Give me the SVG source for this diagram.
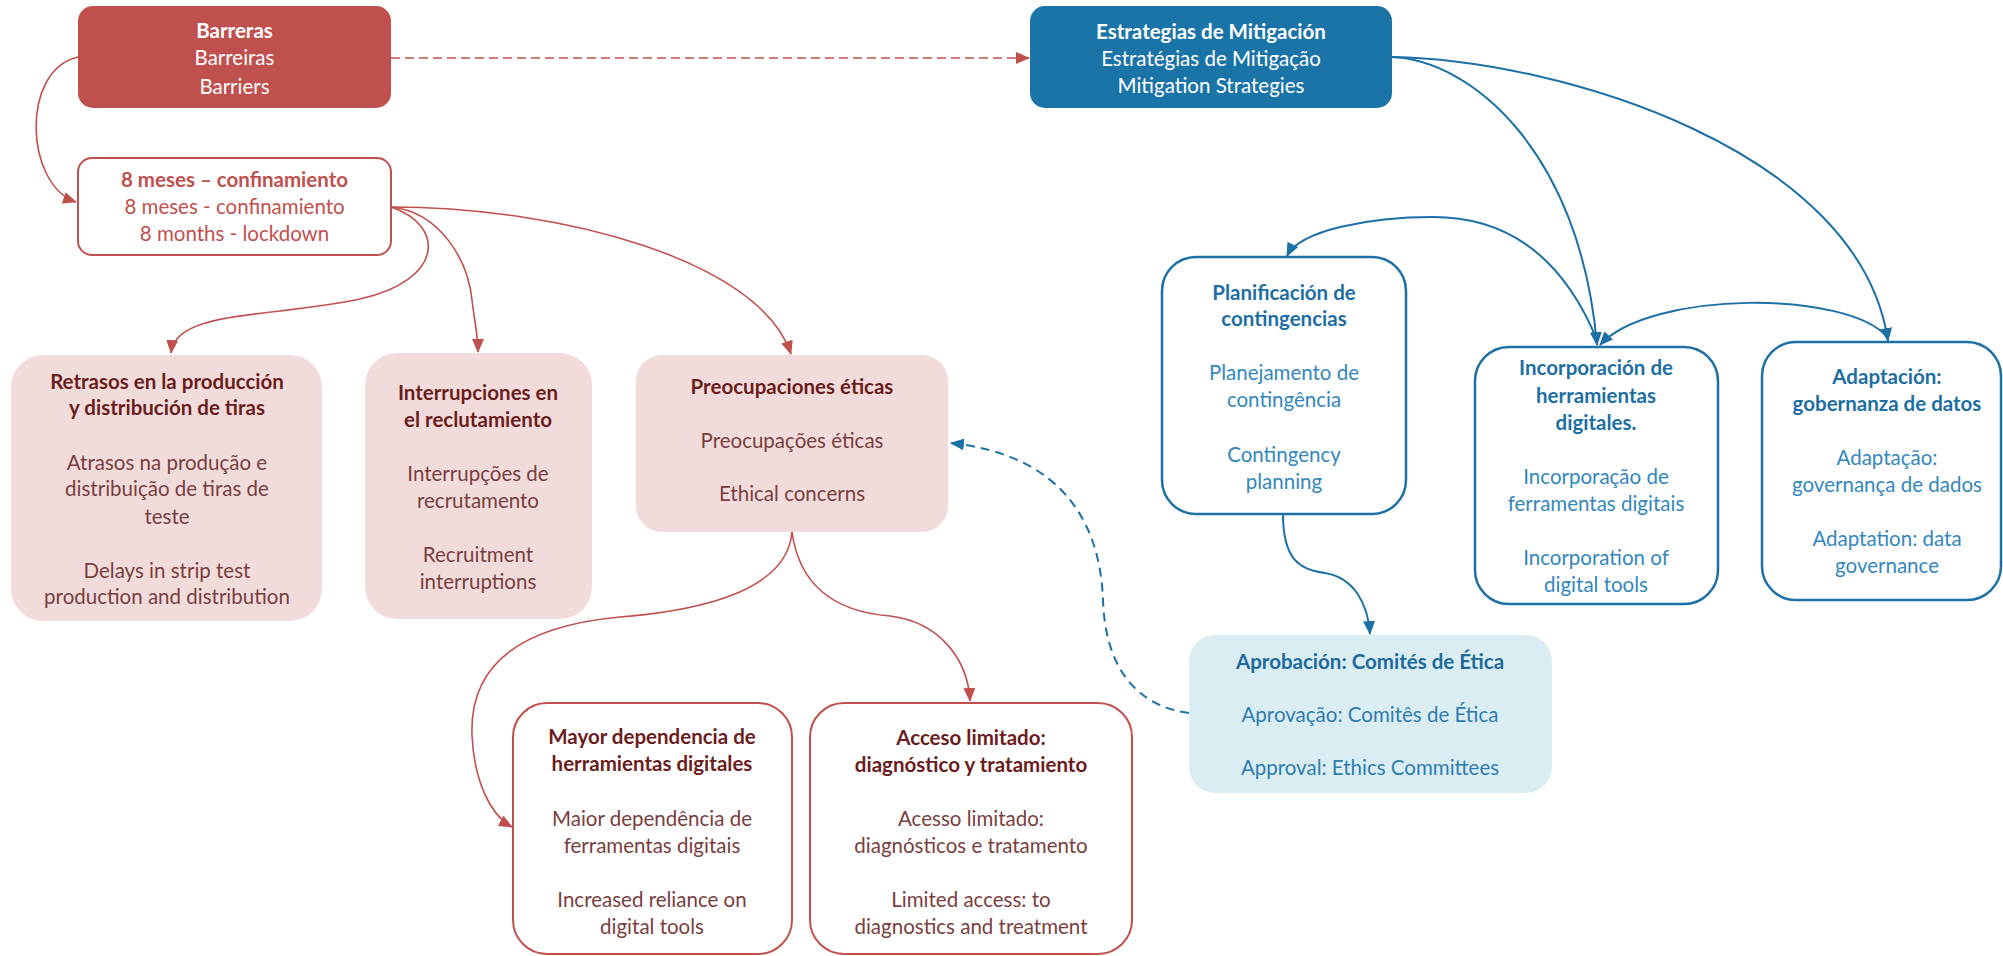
<svg xmlns="http://www.w3.org/2000/svg" width="2003" height="956" viewBox="0 0 2003 956">
<style>
text{font-family:Lato,"Liberation Sans",sans-serif;font-size:20.5px;text-anchor:middle}
.b{font-weight:700}
.l{font-weight:400}
.w{fill:#ffffff}
.r1{fill:#C0504D}
.m1{fill:#6B1C1C}
.m2{fill:#7A3E3E}
.u1{fill:#1C6EA3}
.u2{fill:#3387BD}
.a1{fill:#1D6A9C}
.a2{fill:#2F7DB0}
.cr{fill:none;stroke:#C0504D;stroke-width:1.6}
.cb{fill:none;stroke:#1C70A6;stroke-width:2}
</style>
<defs>
<marker id="ar" markerUnits="userSpaceOnUse" markerWidth="14" markerHeight="12" refX="13" refY="6" orient="auto"><path d="M0,0 L14,6 L0,12 z" fill="#C0504D"/></marker>
<marker id="ab" markerUnits="userSpaceOnUse" markerWidth="14" markerHeight="12" refX="13" refY="6" orient="auto"><path d="M0,0 L14,6 L0,12 z" fill="#1C70A6"/></marker>
</defs>
<rect width="2003" height="956" fill="#ffffff"/>
<g id="connectors">
<path class="cr" d="M78,57 C20,70 25,185 76,202" marker-end="url(#ar)"/>
<path class="cr" d="M391,58 L1029,58" stroke-dasharray="9,5" stroke-width="2" marker-end="url(#ar)"/>
<path class="cr" d="M391,207 C445,225 445,280 360,299 C270,318 175,310 171,353" marker-end="url(#ar)"/>
<path class="cr" d="M391,207 C440,212 468,260 472,300 C475,325 478,335 478,352" marker-end="url(#ar)"/>
<path class="cr" d="M391,207 C560,207 760,260 791,354" marker-end="url(#ar)"/>
<path class="cr" d="M792,532 C788,580 730,608 620,617 C500,628 470,680 472,735 C474,780 490,815 512,827" marker-end="url(#ar)"/>
<path class="cr" d="M792,532 C800,590 840,612 890,616 C940,622 968,660 970,701" marker-end="url(#ar)"/>
<path class="cb" d="M1392,57 C1470,60 1580,150 1597,345" marker-end="url(#ab)"/>
<path class="cb" d="M1392,57 C1560,60 1860,150 1888,341" marker-end="url(#ab)"/>
<path class="cb" d="M1888,338 C1850,290 1650,290 1600,345" marker-end="url(#ab)"/>
<path class="cb" d="M1597,340 C1560,250 1500,217 1433,217 C1370,217 1300,230 1287,256" marker-end="url(#ab)"/>
<path class="cb" d="M1283,514 C1283,560 1300,570 1325,573 C1355,578 1368,605 1370,634" marker-end="url(#ab)"/>
<path class="cb" d="M1189,713 C1130,705 1105,660 1103,600 C1100,520 1060,455 951,443" stroke-dasharray="9,6" marker-end="url(#ab)"/>
</g>
<g id="barreras">
<rect x="78" y="6" width="313" height="102" rx="15" fill="#C0504D"/>
<text x="234.5" y="38" class="b w">Barreras</text>
<text x="234.5" y="65" class="l w">Barreiras</text>
<text x="234.5" y="94" class="l w">Barriers</text>
</g>
<g id="confinamiento">
<rect x="78" y="158" width="313" height="97" rx="14" fill="#ffffff" stroke="#C0504D" stroke-width="2"/>
<text x="234.5" y="187" class="b r1">8 meses – confinamiento</text>
<text x="234.5" y="214" class="l r1">8 meses - confinamiento</text>
<text x="234.5" y="241" class="l r1">8 months - lockdown</text>
</g>
<g id="estrategias">
<rect x="1030" y="6" width="362" height="102" rx="15" fill="#1B74A8"/>
<text x="1211" y="39" class="b w">Estrategias de Mitigación</text>
<text x="1211" y="66" class="l w">Estratégias de Mitigação</text>
<text x="1211" y="93" class="l w">Mitigation Strategies</text>
</g>
<g id="retrasos">
<rect x="11" y="355" width="311" height="266" rx="32" fill="#F2DCDB"/>
<text x="167" y="389" class="b m1">Retrasos en la producción</text>
<text x="167" y="415" class="b m1">y distribución de tiras</text>
<text x="167" y="470" class="l m2">Atrasos na produção e</text>
<text x="167" y="496" class="l m2">distribuição de tiras de</text>
<text x="167" y="524" class="l m2">teste</text>
<text x="167" y="578" class="l m2">Delays in strip test</text>
<text x="167" y="604" class="l m2">production and distribution</text>
</g>
<g id="interrupciones">
<rect x="365" y="353" width="227" height="266" rx="32" fill="#F2DCDB"/>
<text x="478" y="400" class="b m1">Interrupciones en</text>
<text x="478" y="427" class="b m1">el reclutamiento</text>
<text x="478" y="481" class="l m2">Interrupções de</text>
<text x="478" y="508" class="l m2">recrutamento</text>
<text x="478" y="562" class="l m2">Recruitment</text>
<text x="478" y="589" class="l m2">interruptions</text>
</g>
<g id="preocupaciones">
<rect x="636" y="355" width="312" height="177" rx="26" fill="#F2DCDB"/>
<text x="792" y="394" class="b m1">Preocupaciones éticas</text>
<text x="792" y="448" class="l m2">Preocupações éticas</text>
<text x="792" y="501" class="l m2">Ethical concerns</text>
</g>
<g id="mayor">
<rect x="513" y="703" width="279" height="251" rx="34" fill="#ffffff" stroke="#C0504D" stroke-width="2"/>
<text x="652" y="744" class="b m1">Mayor dependencia de</text>
<text x="652" y="771" class="b m1">herramientas digitales</text>
<text x="652" y="826" class="l m2">Maior dependência de</text>
<text x="652" y="853" class="l m2">ferramentas digitais</text>
<text x="652" y="907" class="l m2">Increased reliance on</text>
<text x="652" y="934" class="l m2">digital tools</text>
</g>
<g id="acceso">
<rect x="810" y="703" width="322" height="251" rx="34" fill="#ffffff" stroke="#C0504D" stroke-width="2"/>
<text x="971" y="745" class="b m1">Acceso limitado:</text>
<text x="971" y="772" class="b m1">diagnóstico y tratamiento</text>
<text x="971" y="826" class="l m2">Acesso limitado:</text>
<text x="971" y="853" class="l m2">diagnósticos e tratamento</text>
<text x="971" y="907" class="l m2">Limited access: to</text>
<text x="971" y="934" class="l m2">diagnostics and treatment</text>
</g>
<g id="planificacion">
<rect x="1162" y="257" width="244" height="257" rx="34" fill="#ffffff" stroke="#1C70A6" stroke-width="2.5"/>
<text x="1284" y="300" class="b u1">Planificación de</text>
<text x="1284" y="326" class="b u1">contingencias</text>
<text x="1284" y="380" class="l u2">Planejamento de</text>
<text x="1284" y="407" class="l u2">contingência</text>
<text x="1284" y="462" class="l u2">Contingency</text>
<text x="1284" y="489" class="l u2">planning</text>
</g>
<g id="incorporacion">
<rect x="1475" y="347" width="243" height="257" rx="34" fill="#ffffff" stroke="#1C70A6" stroke-width="2.5"/>
<text x="1596" y="375" class="b u1">Incorporación de</text>
<text x="1596" y="403" class="b u1">herramientas</text>
<text x="1596" y="430" class="b u1">digitales.</text>
<text x="1596" y="484" class="l u2">Incorporação de</text>
<text x="1596" y="511" class="l u2">ferramentas digitais</text>
<text x="1596" y="565" class="l u2">Incorporation of</text>
<text x="1596" y="592" class="l u2">digital tools</text>
</g>
<g id="adaptacion">
<rect x="1762" y="342" width="239" height="258" rx="34" fill="#ffffff" stroke="#1C70A6" stroke-width="2.5"/>
<text x="1887" y="384" class="b u1">Adaptación:</text>
<text x="1887" y="411" class="b u1">gobernanza de datos</text>
<text x="1887" y="465" class="l u2">Adaptação:</text>
<text x="1887" y="492" class="l u2">governança de dados</text>
<text x="1887" y="546" class="l u2">Adaptation: data</text>
<text x="1887" y="573" class="l u2">governance</text>
</g>
<g id="aprobacion">
<rect x="1189" y="635" width="363" height="158" rx="26" fill="#DAEDF3"/>
<text x="1370" y="669" class="b a1">Aprobación: Comités de Ética</text>
<text x="1370" y="722" class="l a2">Aprovação: Comitês de Ética</text>
<text x="1370" y="775" class="l a2">Approval: Ethics Committees</text>
</g>
</svg>
